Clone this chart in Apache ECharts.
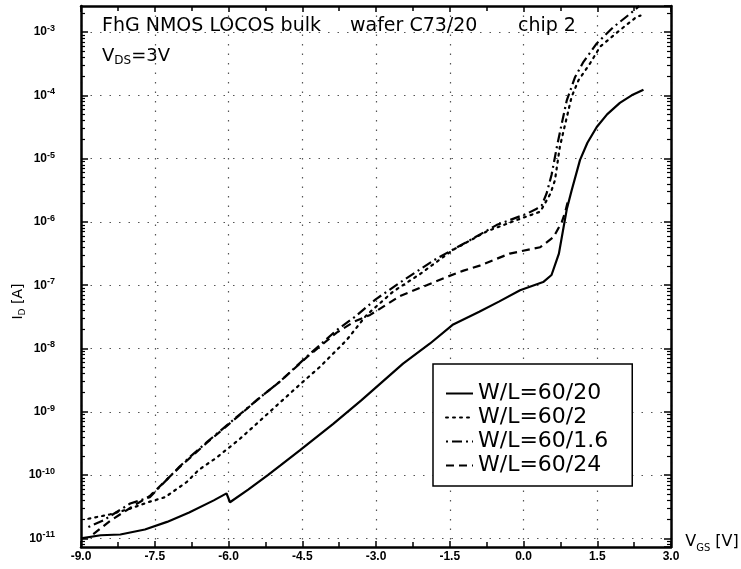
<!DOCTYPE html>
<html>
<head>
<meta charset="utf-8">
<title>FhG NMOS LOCOS bulk - I_D vs V_GS</title>
<script src="https://cdn.jsdelivr.net/npm/echarts@6.0.0/dist/echarts.min.js"></script>
<style>
  html, body { margin: 0; padding: 0; background: #fff; }
  #chart { width: 741px; height: 569px; }
</style>
</head>
<body>
<div id="chart"></div>
<script>
// transfer curves: V_GS [V] and I_D [A]
const vgs6020 = [-9.0, -8.6, -8.2, -7.7, -7.25, -6.8, -6.3, -6.04, -5.97, -5.6, -5.2, -4.95, -4.55, -3.87, -3.3,
  -2.45, -1.9, -1.43, -0.9, -0.5, -0.07, 0.4, 0.57, 0.72, 0.8, 0.88, 0.98, 1.15, 1.3, 1.49, 1.7, 1.96, 2.2, 2.44];
const id6020 = [1.0e-11, 1.12e-11, 1.15e-11, 1.38e-11, 1.82e-11, 2.57e-11, 3.98e-11, 5.13e-11, 3.72e-11, 5.89e-11,
  1.0e-10, 1.41e-10, 2.45e-10, 6.46e-10, 1.51e-9, 5.75e-9, 1.2e-8, 2.4e-8, 3.8e-8, 5.5e-8, 8.32e-8, 1.12e-7,
  1.45e-7, 3.16e-7, 7.08e-7, 1.58e-6, 3.16e-6, 9.55e-6, 1.78e-5, 3.16e-5, 5.01e-5, 7.59e-5, 1.0e-4, 1.23e-4];

const vgs602 = [-8.85, -8.4, -8.0, -7.6, -7.29, -6.85, -6.61, -6.27, -5.8, -5.5, -5.09, -4.55, -4.14, -3.6, -3.19,
  -2.65, -2.1, -1.43, -0.75, -0.07, 0.34, 0.47, 0.55, 0.64, 0.74, 0.98, 1.12, 1.35, 1.56, 1.96, 2.3, 2.38];
const id602 = [2.04e-11, 2.4e-11, 2.95e-11, 3.8e-11, 4.47e-11, 7.76e-11, 1.2e-10, 1.82e-10, 3.55e-10, 5.75e-10,
  1.12e-9, 2.69e-9, 5.13e-9, 1.35e-8, 3.39e-8, 7.94e-8, 1.51e-7, 3.63e-7, 7.08e-7, 1.12e-6, 1.45e-6, 2.19e-6,
  2.82e-6, 4.57e-6, 1.55e-5, 9.55e-5, 1.74e-4, 3.16e-4, 5.89e-4, 1.07e-3, 1.74e-3, 1.82e-3];

const vgs6016 = [-8.85, -8.55, -8.0, -7.6, -7.4, -7.0, -6.78, -6.44, -5.83, -5.4, -4.95, -4.41, -3.8, -3.43, -3.0,
  -2.4, -1.77, -1.09, -0.55, 0.07, 0.27, 0.37, 0.47, 0.57, 0.68, 0.78, 0.88, 1.05, 1.22, 1.49, 1.83, 2.17, 2.35];
const id6016 = [1.51e-11, 1.91e-11, 3.55e-11, 4.47e-11, 6.46e-11, 1.35e-10, 1.95e-10, 3.31e-10, 8.32e-10, 1.58e-9,
  3.02e-9, 7.41e-9, 1.95e-8, 3.16e-8, 6.03e-8, 1.26e-7, 2.63e-7, 5.13e-7, 8.91e-7, 1.35e-6, 1.62e-6, 1.82e-6,
  2.82e-6, 5.5e-6, 1.55e-5, 3.63e-5, 8.32e-5, 1.95e-4, 3.39e-4, 6.61e-4, 1.2e-3, 1.95e-3, 2.57e-3];

const vgs6024 = [-8.75, -8.4, -8.0, -7.6, -7.0, -6.44, -5.83, -5.4, -4.95, -4.41, -3.8, -3.43, -3.12, -2.51, -1.97,
  -1.56, -1.22, -0.89, -0.28, 0.34, 0.61, 0.78, 0.85, 0.9];
const id6024 = [1.17e-11, 1.91e-11, 3.02e-11, 4.68e-11, 1.32e-10, 3.24e-10, 8.13e-10, 1.58e-9, 3.02e-9, 7.24e-9,
  1.78e-8, 2.69e-8, 3.39e-8, 6.76e-8, 1.0e-7, 1.35e-7, 1.7e-7, 2.04e-7, 3.16e-7, 3.98e-7, 5.75e-7, 1.0e-6,
  1.45e-6, 2.09e-6];

const seriesNames = ['W/L=60/20', 'W/L=60/2', 'W/L=60/1.6', 'W/L=60/24'];

// axes
const xMin = -9.0, xMax = 3.0, xStep = 1.5;
const yMin = 7.3e-12, yMax = 2.58e-3;
const decadeExps = [-12, -11, -10, -9, -8, -7, -6, -5, -4, -3];
const minorTickVals = decadeExps.flatMap(e => [2, 3, 4, 5, 6, 7, 8, 9].map(k => k * Math.pow(10, e)));

const BLACK = '#000';
const gridDots = { color: '#555', width: 1.2, type: [1.5, 8] };

function pairs(xs, ys) { return xs.map((v, i) => [v, ys[i]]); }

function decadeLabel(v) {
  const e = Math.log10(v);
  const n = Math.round(e);
  if (Math.abs(e - n) > 1e-6) return '';
  return '{a|10}{b|' + n + '}';
}

const chart = echarts.init(document.getElementById('chart'), null, { renderer: 'canvas' });

const baseX = {
  type: 'value', min: xMin, max: xMax, interval: xStep,
  axisLine: { show: true, onZero: false, lineStyle: { color: BLACK, width: 2.5 } },
  axisTick: { show: true, inside: true, length: 6, lineStyle: { color: BLACK, width: 1.5 } },
  minorTick: { show: true, splitNumber: 2, length: 5, lineStyle: { color: BLACK, width: 1.5 } },
};
const baseY = {
  type: 'log', logBase: 10, min: yMin, max: yMax,
  axisLine: { show: true, onZero: false, lineStyle: { color: BLACK, width: 2.5 } },
  axisTick: { show: true, inside: true, length: 7, lineStyle: { color: BLACK, width: 1.5 } },
};
const minorY = {
  type: 'log', logBase: 10, min: yMin, max: yMax,
  axisLine: { show: false, onZero: false },
  axisLabel: { show: false },
  splitLine: { show: false },
  axisTick: { show: true, inside: true, length: 4, customValues: minorTickVals, lineStyle: { color: BLACK, width: 1.2 } },
};

const lineBase = { type: 'line', symbol: 'none', smooth: false, animation: false };
const titleFont = { fontFamily: 'DejaVu Sans', fontSize: 19, fontWeight: 'normal', color: BLACK };

chart.setOption({
  backgroundColor: '#fff',
  animation: false,
  textStyle: { fontFamily: 'Liberation Sans, Arial, sans-serif', color: BLACK },
  title: [
    { text: 'FhG NMOS LOCOS bulk', left: 102, top: 17, padding: 0, textStyle: titleFont },
    { text: 'wafer C73/20', left: 350, top: 17, padding: 0, textStyle: titleFont },
    { text: 'chip 2', left: 518, top: 17, padding: 0, textStyle: titleFont },
    {
      text: '{m|V}{s|DS}{m|=3V}',
      left: 102, top: 45, padding: 0,
      textStyle: {
        fontFamily: 'DejaVu Sans', fontWeight: 'normal', color: BLACK,
        rich: {
          m: { fontFamily: 'DejaVu Sans', fontSize: 18, lineHeight: 22, color: BLACK },
          s: { fontFamily: 'DejaVu Sans', fontSize: 12, lineHeight: 11, verticalAlign: 'bottom', color: BLACK },
        },
      },
    },
  ],
  grid: { left: 81, right: 70, top: 6, bottom: 22, containLabel: false, outerBoundsMode: 'none' },
  legend: {
    orient: 'vertical', left: 433, top: 364,
    padding: [18, 24, 9, 12], itemGap: 1, itemWidth: 27, itemHeight: 14,
    borderColor: BLACK, borderWidth: 1.5, backgroundColor: '#fff',
    selectedMode: false,
    itemStyle: { opacity: 0 },
    textStyle: { fontFamily: 'DejaVu Sans', fontSize: 22, lineHeight: 23, color: BLACK },
    data: seriesNames,
  },
  xAxis: [
    Object.assign({}, baseX, {
      position: 'bottom',
      name: '{m|V}{s|GS}{m| [V]}', nameLocation: 'end', nameGap: 12,
      nameTextStyle: {
        align: 'left', padding: [0, 0, 10, 0],
        rich: {
          m: { fontFamily: 'DejaVu Sans', fontSize: 16, lineHeight: 22, color: BLACK },
          s: { fontFamily: 'DejaVu Sans', fontSize: 10, lineHeight: 11, verticalAlign: 'bottom', color: BLACK },
        },
      },
      axisLabel: {
        margin: 4, color: BLACK, fontWeight: 'bold', fontSize: 12,
        formatter: v => v.toFixed(1),
      },
      splitLine: { show: true, lineStyle: gridDots },
    }),
    Object.assign({}, baseX, {
      position: 'top',
      axisLabel: { show: false },
      splitLine: { show: false },
    }),
  ],
  yAxis: [
    Object.assign({}, baseY, {
      position: 'left',
      name: '{m|I}{s|D}{m| [A]}', nameLocation: 'middle', nameGap: 54, nameMoveOverlap: false,
      nameTextStyle: {
        padding: [0, 50, 0, 0],
        rich: {
          m: { fontFamily: 'DejaVu Sans', fontSize: 14, lineHeight: 18, color: BLACK },
          s: { fontFamily: 'DejaVu Sans', fontSize: 9, lineHeight: 9, verticalAlign: 'bottom', color: BLACK },
        },
      },
      axisLabel: {
        margin: 26, color: BLACK,
        showMinLabel: false, showMaxLabel: false,
        formatter: decadeLabel,
        rich: {
          a: { fontFamily: 'Liberation Sans', fontWeight: 'bold', fontSize: 12, lineHeight: 16, color: BLACK },
          b: { fontFamily: 'Liberation Sans', fontWeight: 'bold', fontSize: 9, lineHeight: 9, verticalAlign: 'top', color: BLACK },
        },
      },
      splitLine: { show: true, lineStyle: gridDots },
    }),
    Object.assign({}, baseY, {
      position: 'right',
      axisLabel: { show: false },
      splitLine: { show: false },
    }),
    Object.assign({}, minorY, { position: 'left' }),
    Object.assign({}, minorY, { position: 'right' }),
  ],
  series: [
    Object.assign({}, lineBase, {
      name: seriesNames[0], data: pairs(vgs6020, id6020),
      lineStyle: { color: BLACK, width: 2.2, type: 'solid' },
      itemStyle: { color: BLACK },
    }),
    Object.assign({}, lineBase, {
      name: seriesNames[1], data: pairs(vgs602, id602),
      lineStyle: { color: BLACK, width: 2.2, type: [2, 5], cap: 'round' },
      itemStyle: { color: BLACK },
    }),
    Object.assign({}, lineBase, {
      name: seriesNames[2], data: pairs(vgs6016, id6016),
      lineStyle: { color: BLACK, width: 2.2, type: [2, 4, 10, 4] },
      itemStyle: { color: BLACK },
    }),
    Object.assign({}, lineBase, {
      name: seriesNames[3], data: pairs(vgs6024, id6024),
      lineStyle: { color: BLACK, width: 2.2, type: [8, 5] },
      itemStyle: { color: BLACK },
    }),
  ],
});
</script>
</body>
</html>
